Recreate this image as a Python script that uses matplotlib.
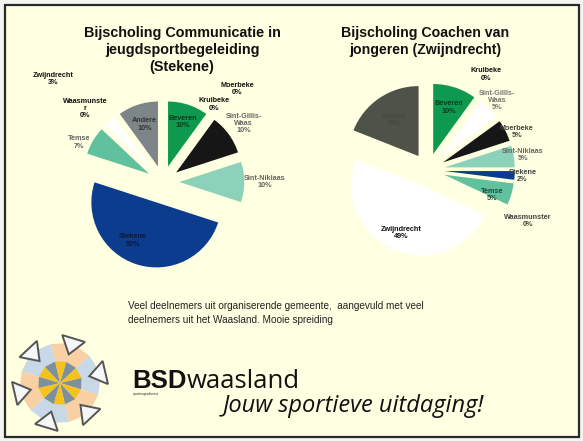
"""Two exploded pies: where participants of two BSD Waasland courses came from."""

import numpy as np
from matplotlib import pyplot as plt
from matplotlib.patches import Polygon, Rectangle

W, H = 583, 441

# --- data -------------------------------------------------------------
left_title = "Bijscholing Communicatie in\njeugdsportbegeleiding\n(Stekene)"
left_names = ["Beveren", "Kruibeke", "Moerbeke", "Sint-Gillis-\nWaas", "Sint-Niklaas",
              "Stekene", "Temse", "Waasmunste\nr", "Zwijndrecht", "Andere"]
left_values = [10, 0, 0, 10, 10, 50, 7, 0, 3, 10]

right_title = "Bijscholing Coachen van\njongeren (Zwijndrecht)"
right_names = ["Beveren", "Kruibeke", "Sint-Gillis-\nWaas", "Moerbeke", "Sint-Niklaas",
               "Stekene", "Temse", "Waasmunster", "Zwijndrecht", "Andere"]
right_values = [10, 0, 5, 5, 5, 2, 5, 0, 49, 19]

note = ("Veel deelnemers uit organiserende gemeente,  aangevuld met veel\n"
        "deelnemers uit het Waasland. Mooie spreiding")

# --- styles -----------------------------------------------------------
CREAM = "#FFFFE1"
left_colors = ["#0E9A4E", "#0E9A4E", "#FFFFFF", "#161616", "#8CD2BA",
               "#0B3C8E", "#61C09E", "#61C09E", "#FFFFFF", "#7D8589"]
right_colors = ["#0E9A4E", "#0E9A4E", "#FFFFFF", "#161616", "#8CD2BA",
                "#0B3C8E", "#61C09E", "#61C09E", "#FFFFFF", "#4F5249"]
left_explode = [0.25, 0.25, 0.25, 0.25, 0.25, 0.33, 0.25, 0.25, 0.25, 0.25]
right_explode = [0.24] * 10
# label distance from each wedge tip (pie radii) and clockwise turn (degrees)
left_dist = [0.72, 1.18, 1.58, 1.28, 1.32, 0.69, 1.18, 1.40, 2.07, 0.68]
left_turn = [0, -3, 3, 0, 0, 14, -6.5, 0, -6, 0]
right_dist = [0.70, 1.36, 1.16, 1.14, 1.13, 1.11, 0.75, 1.36, 0.74, 0.62]
right_turn = [0, -5.5, 0, 4.4, 0, 0, 6.7, 2, 0, 0]
left_tc = ["#0b3a22", "#111", "#111", "#666", "#666", "#0a1a40", "#666", "#111", "#111", "#333"]
right_tc = ["#0b3a22", "#111", "#777", "#444", "#666", "#444", "#1d4a3a", "#444", "#111", "#45483f"]

plt.rcParams["font.family"] = ["Liberation Sans", "DejaVu Sans"]

fig = plt.figure(figsize=(W / 100, H / 100), dpi=100)
fig.patch.set_facecolor("#F4F4F0")

bg = fig.add_axes([0, 0, 1, 1])
bg.set_xlim(0, W)
bg.set_ylim(H, 0)
bg.axis("off")
bg.add_patch(Rectangle((5, 5), 574, 432, facecolor=CREAM, edgecolor="#2a2a2a", lw=1.6))


def draw_pie(cx, cy, R, values, names, colors, explode, dist, turn, tcolors):
    half = 160
    ax = fig.add_axes([(cx - half) / W, 1 - (cy + half) / H, 2 * half / W, 2 * half / H])
    wedges, _ = ax.pie(values, colors=colors, explode=explode, startangle=90,
                       counterclock=False, radius=1, normalize=True,
                       wedgeprops=dict(linewidth=0))
    # pie() resets the limits, so scale afterwards: 1 unit = R pixels
    ax.set_xlim(-half / R, half / R)
    ax.set_ylim(-half / R, half / R)
    ax.axis("off")
    for w, name, v, d, tr, c in zip(wedges, names, values, dist, turn, tcolors):
        t = np.deg2rad((w.theta1 + w.theta2) / 2 - tr)
        x = w.center[0] + d * np.cos(t)
        y = w.center[1] + d * np.sin(t)
        ax.text(x, y, f"{name}\n{v}%", ha="center", va="center", fontsize=5.2,
                fontweight="bold", color=c, linespacing=1.05, clip_on=False)
    return ax


draw_pie(163, 182, 65, left_values, left_names, left_colors, left_explode,
         left_dist, left_turn, left_tc)
draw_pie(428, 170, 70, right_values, right_names, right_colors, right_explode,
         right_dist, right_turn, right_tc)

bg.text(182, 26, left_title, ha="center", va="top", fontsize=10.4, fontweight="bold",
        linespacing=1.28, color="#111")
bg.text(425, 26, right_title, ha="center", va="top", fontsize=10.2, fontweight="bold",
        linespacing=1.28, color="#111")
bg.text(128, 301, note, ha="left", va="top", fontsize=7.2, linespacing=1.45, color="#222")

# --- logo -------------------------------------------------------------
lx, ly = 60, 383
rot = np.deg2rad(17)
for i in range(6):
    a0 = rot + i * np.pi / 3 - np.pi / 6
    a1 = a0 + np.pi / 3
    p = lambda r, a: (lx + r * np.sin(a), ly - r * np.cos(a))
    quad = [p(20, a0), p(40, a0), p(42, (a0 + a1) / 2), p(40, a1), p(20, a1)]
    bg.add_patch(Polygon(quad, closed=True, facecolor="#C8D8E6" if i % 2 else "#F9D0A4",
                         edgecolor="none"))
    am = (a0 + a1) / 2
    bg.add_patch(Polygon([(lx, ly), p(22, a0), p(22, am)], facecolor="#F5C21C", edgecolor="none"))
    bg.add_patch(Polygon([(lx, ly), p(22, am), p(22, a1)], facecolor="#7E909C", edgecolor="none"))
    tri = [p(30, am), p(48, am - 0.25), p(48, am + 0.25)]
    bg.add_patch(Polygon(tri, closed=True, facecolor="#F4F6F8", edgecolor="#555", lw=1.4))

bsd = bg.text(132, 388, "BSD", ha="left", va="baseline", fontsize=18.5, fontweight="bold",
              color="#111")
fig.canvas.draw()
bsd_end = bsd.get_window_extent(fig.canvas.get_renderer()).x1
bg.text(bsd_end + 0.5, 388, "waasland", ha="left", va="baseline", fontsize=18.5, color="#111",
        family=["Open Sans", "DejaVu Sans"])
bg.text(133, 393.5, "sportregiodienst", ha="left", va="center", fontsize=2.6, color="#333")
bg.text(223, 412, "Jouw sportieve uitdaging!", ha="left", va="baseline", fontsize=17,
        style="italic", color="#111", family=["Open Sans", "DejaVu Sans"])

fig.savefig("out.png", dpi=100, facecolor=fig.get_facecolor())
